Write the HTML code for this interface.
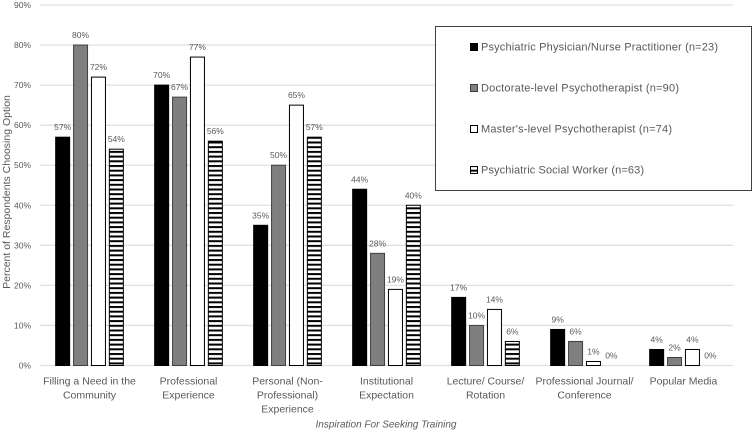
<!DOCTYPE html>
<html>
<head>
<meta charset="utf-8">
<title>Inspiration For Seeking Training</title>
<style>
html,body{margin:0;padding:0;background:#fff;width:754px;height:432px;overflow:hidden}
svg{display:block}
text{font-family:"Liberation Sans",sans-serif;fill:#595959}
</style>
</head>
<body>
<svg id="chart" width="754" height="432" viewBox="0 0 754 432" xmlns="http://www.w3.org/2000/svg">
<defs>
<pattern id="stripes" patternUnits="userSpaceOnUse" x="0" y="0.5" width="4" height="4.7">
<rect width="4" height="4.7" fill="#fff"></rect>
<rect width="4" height="2" fill="#000"></rect>
</pattern>
</defs>
<g id="grid"></g>
<g id="ticks"></g>
<g id="bars"></g>
<g id="values"></g>
<g id="cats"></g>
<text transform="translate(10,192) rotate(-90)" text-anchor="middle" font-size="10.5">Percent of Respondents Choosing Option</text>
<text x="386" y="427.5" text-anchor="middle" font-size="10" font-style="italic">Inspiration For Seeking Training</text>
<g>
<rect x="435.5" y="26.5" width="316" height="164" fill="#fff" stroke="#404040" stroke-width="1"></rect>
<g>
<rect x="470.5" y="43.5" width="7" height="7" fill="#000" stroke="#000"></rect>
<text x="481" y="50.5" font-size="11" textLength="237" lengthAdjust="spacing">Psychiatric Physician/Nurse Practitioner (n=23)</text>
</g>
<g>
<rect x="470.5" y="84.5" width="7" height="7" fill="#7f7f7f" stroke="#404040"></rect>
<text x="481" y="91.5" font-size="11" textLength="198" lengthAdjust="spacing">Doctorate-level Psychotherapist (n=90)</text>
</g>
<g>
<rect x="470.5" y="125.5" width="7" height="7" fill="#fff" stroke="#000"></rect>
<text x="481" y="132.5" font-size="11" textLength="191" lengthAdjust="spacing">Master's-level Psychotherapist (n=74)</text>
</g>
<g>
<rect x="470.5" y="166.5" width="7" height="7" fill="url(#stripes)" stroke="#000"></rect>
<text x="481" y="173.5" font-size="11" textLength="163" lengthAdjust="spacing">Psychiatric Social Worker (n=63)</text>
</g>
</g>
</svg>
<script>
const categories = [
  ["Filling a Need in the", "Community"],
  ["Professional", "Experience"],
  ["Personal (Non-", "Professional)", "Experience"],
  ["Institutional", "Expectation"],
  ["Lecture/ Course/", "Rotation"],
  ["Professional Journal/", "Conference"],
  ["Popular Media"]
];
const physician = [57, 70, 35, 44, 17, 9, 4];
const doctorate = [80, 67, 50, 28, 10, 6, 2];
const masters = [72, 77, 65, 19, 14, 1, 4];
const socialWorker = [54, 56, 57, 40, 6, 0, 0];
const yTicks = [0, 10, 20, 30, 40, 50, 60, 70, 80, 90];

const NS = "http://www.w3.org/2000/svg";
const plotLeft = 40, plotRight = 733, plotBottom = 365.5, plotTop = 5;
const yMax = 90;
function yScale(v) { return plotBottom - (v / yMax) * (plotBottom - plotTop); }
function groupCenter(i) { return plotLeft + (i + 0.5) * (plotRight - plotLeft) / categories.length; }
const barWidth = 14, barPitch = 17.9;
function barX(g, s) { return groupCenter(g) + (s - 1.5) * barPitch - barWidth / 2; }
function make(tag, parent, attrs) {
  const el = document.createElementNS(NS, tag);
  for (const k in attrs) el.setAttribute(k, attrs[k]);
  parent.appendChild(el);
  return el;
}
const gridG = document.getElementById("grid");
const ticksG = document.getElementById("ticks");
yTicks.forEach(function (t) {
  const line = make("line", gridG, { x1: plotLeft, x2: plotRight, y1: yScale(t), y2: yScale(t), stroke: "#e0e0e0", "stroke-width": 1.3 });
  
  
  const label = make("text", ticksG, { x: 31, y: yScale(t) + 3, "text-anchor": "end", "font-size": 8.5 });
  
  
  label.textContent = t + "%";
});
const seriesList = [physician, doctorate, masters, socialWorker];
const seriesFill = ["#000", "#7f7f7f", "#fff", "url(#stripes)"];
const seriesStroke = ["#000", "#404040", "#000", "#000"];
const barsG = document.getElementById("bars");
const valuesG = document.getElementById("values");
seriesList.forEach(function (vals, s) {
  vals.forEach(function (v, g) {
    const x = barX(g, s);
    if (v > 0) {
      const bar = make("rect", barsG, { x: x, y: yScale(v), width: barWidth, height: plotBottom - yScale(v), fill: seriesFill[s], stroke: seriesStroke[s], "stroke-width": 1 });
      
      
    }
    const lab = make("text", valuesG, { x: x + barWidth / 2, y: yScale(v) - 7, "text-anchor": "middle", "font-size": 8.5 });
    
    
    lab.textContent = v + "%";
  });
});
const catsG = document.getElementById("cats");
categories.forEach(function (lines, i) {
  lines.forEach(function (ln, j) {
    const t = make("text", catsG, { x: groupCenter(i), y: 384.5 + j * 14, "text-anchor": "middle", "font-size": 10.5 });
    
    
    t.textContent = ln;
  });
});
</script>
</body>
</html>
